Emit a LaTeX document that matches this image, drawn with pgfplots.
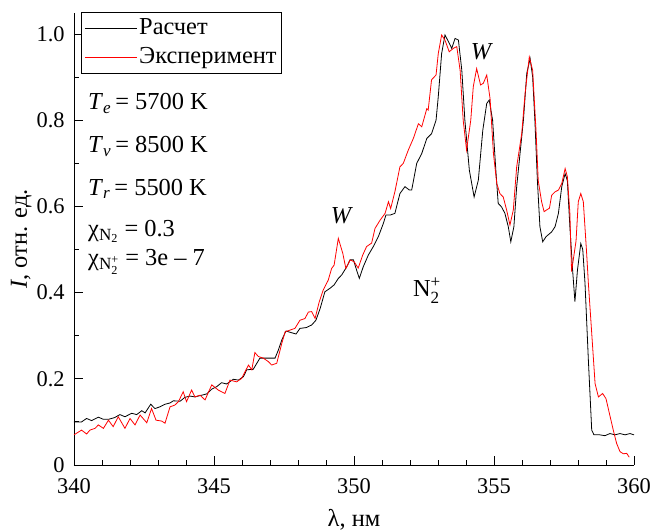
\documentclass[border=0pt]{standalone}
\usepackage{fontspec}
\usepackage{amsmath}
\setmainfont{Liberation Serif}
\usepackage{pgfplots}
\pgfplotsset{compat=1.18}
\begin{document}
\fontsize{24.5}{28}\selectfont
\begin{tikzpicture}
\useasboundingbox (-74bp,-66bp) rectangle (576bp,465bp);
\begin{axis}[
  at={(0,0)}, anchor=south west,
  scale only axis, width=560bp, height=452bp,
  xmin=340, xmax=360, ymin=0, ymax=1.049,
  axis x line*=bottom, axis y line*=left,
  axis line style={-, line width=0.9bp},
  tick align=inside,
  xtick={340,345,350,355,360},
  ytick={0,0.2,0.4,0.6,0.8,1.0},
  yticklabels={0,0.2,0.4,0.6,0.8,1.0},
  minor x tick num=4, minor y tick num=1,
  major tick length=9bp, minor tick length=5bp,
  every tick/.style={black, line width=0.9bp},
  /pgf/number format/assume math mode=true,
  font=\fontsize{24.5}{28}\selectfont,
  ticklabel style={font=\fontsize{22.5}{26}\selectfont},
  xticklabel style={yshift=-5bp},
  yticklabel style={xshift=-1bp},
  xlabel={λ, нм},
  ylabel={\textit{I}, отн. ед.},
  xlabel style={at={(axis description cs:0.5,0)}, anchor=base, yshift=-61bp},
  ylabel style={at={(axis description cs:-0.084,0.5)}, anchor=base},
  legend style={at={(rel axis cs:0.0125,1.002)}, anchor=north west, draw=black, line width=0.8bp,
    font=\fontsize{24.5}{28}\selectfont, inner xsep=3bp, inner ysep=4bp, row sep=5bp, fill=white},
  legend cell align=left,
  legend image code/.code={\draw[#1] (0bp,0bp) -- (52bp,0bp);},
]
\addplot[black, line width=0.8bp] coordinates {
(340.0,0.100) (340.27,0.100) (340.45,0.108) (340.63,0.103) (340.87,0.111) (341.05,0.106) (341.23,0.106) (341.45,0.110) (341.64,0.117) (341.82,0.112) (342.06,0.120) (342.24,0.117) (342.42,0.126) (342.54,0.121) (342.74,0.141) (342.89,0.131) (343.07,0.135) (343.25,0.141) (343.43,0.144) (343.55,0.149) (343.79,0.148) (343.96,0.157) (344.14,0.160) (344.32,0.158) (344.56,0.162) (344.74,0.165) (344.92,0.176) (345.1,0.182) (345.27,0.191) (345.45,0.188) (345.69,0.199) (345.87,0.197) (346.05,0.205) (346.17,0.221) (346.4,0.222) (346.64,0.248) (346.94,0.248) (347.18,0.248) (347.3,0.267) (347.42,0.290) (347.57,0.311) (347.77,0.307) (347.93,0.304) (348.07,0.317) (348.3,0.319) (348.49,0.325) (348.64,0.336) (348.79,0.363) (348.96,0.402) (349.14,0.410) (349.29,0.418) (349.44,0.433) (349.56,0.441) (349.74,0.460) (349.86,0.476) (349.98,0.476) (350.07,0.457) (350.19,0.433) (350.33,0.460) (350.51,0.487) (350.69,0.507) (350.87,0.530) (351.05,0.561) (351.14,0.580) (351.29,0.580) (351.46,0.584) (351.64,0.630) (351.82,0.646) (351.98,0.638) (352.06,0.638) (352.24,0.700) (352.42,0.723) (352.6,0.758) (352.77,0.769) (352.93,0.800) (353.01,0.855) (353.13,0.955) (353.25,0.998) (353.4,0.979) (353.49,0.967) (353.61,0.990) (353.73,0.986) (353.85,0.916) (353.96,0.800) (354.12,0.684) (354.29,0.622) (354.44,0.661) (354.6,0.777) (354.74,0.839) (354.83,0.847) (354.95,0.800) (355.07,0.680) (355.15,0.607) (355.27,0.599) (355.39,0.584) (355.51,0.553) (355.6,0.518) (355.71,0.553) (355.81,0.646) (355.93,0.723) (356.05,0.800) (356.17,0.909) (356.29,0.943) (356.38,0.901) (356.46,0.800) (356.55,0.660) (356.64,0.553) (356.74,0.518) (356.86,0.530) (357.06,0.541) (357.18,0.553) (357.3,0.584) (357.42,0.646) (357.54,0.676) (357.62,0.660) (357.71,0.553) (357.81,0.450) (357.89,0.379) (357.98,0.452) (358.1,0.514) (358.17,0.500) (358.25,0.422) (358.37,0.244) (358.49,0.081) (358.57,0.070) (358.78,0.070) (358.96,0.068) (359.14,0.073) (359.32,0.070) (359.5,0.073) (359.68,0.070) (359.86,0.073) (360.0,0.070)
};
\addlegendentry{Расчет}
\addplot[red, line width=0.8bp] coordinates {
(340.0,0.070) (340.27,0.081) (340.45,0.072) (340.57,0.081) (340.75,0.085) (340.87,0.093) (341.05,0.085) (341.23,0.104) (341.4,0.089) (341.58,0.112) (341.82,0.085) (342.0,0.108) (342.18,0.093) (342.36,0.116) (342.6,0.098) (342.77,0.131) (342.93,0.104) (343.13,0.102) (343.25,0.097) (343.43,0.135) (343.6,0.139) (343.73,0.147) (343.9,0.170) (344.02,0.147) (344.2,0.174) (344.32,0.158) (344.5,0.162) (344.68,0.151) (344.92,0.186) (345.15,0.174) (345.39,0.166) (345.57,0.197) (345.81,0.193) (345.99,0.201) (346.23,0.232) (346.35,0.221) (346.46,0.261) (346.58,0.252) (346.76,0.248) (346.94,0.240) (347.06,0.232) (347.24,0.236) (347.42,0.282) (347.54,0.309) (347.71,0.313) (347.89,0.317) (348.07,0.336) (348.25,0.340) (348.37,0.355) (348.49,0.356) (348.61,0.340) (348.76,0.379) (348.9,0.406) (349.08,0.429) (349.2,0.456) (349.29,0.464) (349.44,0.526) (349.6,0.491) (349.71,0.456) (349.86,0.476) (350.0,0.472) (350.15,0.457) (350.31,0.487) (350.45,0.507) (350.63,0.515) (350.75,0.549) (350.93,0.568) (351.11,0.584) (351.23,0.611) (351.31,0.595) (351.46,0.634) (351.64,0.692) (351.76,0.700) (351.94,0.731) (352.12,0.758) (352.3,0.792) (352.42,0.785) (352.6,0.827) (352.65,0.824) (352.77,0.894) (352.93,0.905) (353.01,0.955) (353.13,0.998) (353.25,0.986) (353.4,0.959) (353.55,0.967) (353.67,0.971) (353.79,0.916) (353.9,0.800) (354.02,0.731) (354.17,0.800) (354.26,0.878) (354.38,0.920) (354.52,0.882) (354.62,0.886) (354.74,0.905) (354.86,0.850) (354.98,0.723) (355.1,0.653) (355.21,0.630) (355.33,0.622) (355.45,0.592) (355.57,0.557) (355.69,0.592) (355.81,0.692) (355.99,0.769) (356.11,0.862) (356.26,0.947) (356.38,0.916) (356.5,0.777) (356.58,0.660) (356.7,0.611) (356.79,0.588) (356.88,0.592) (356.98,0.596) (357.06,0.626) (357.18,0.634) (357.3,0.638) (357.42,0.653) (357.54,0.688) (357.62,0.669) (357.71,0.584) (357.77,0.449) (357.93,0.520) (358.01,0.611) (358.1,0.630) (358.19,0.611) (358.31,0.490) (358.37,0.422) (358.49,0.306) (358.61,0.189) (358.73,0.158) (358.88,0.166) (359.0,0.154) (359.12,0.120) (359.26,0.081) (359.38,0.050) (359.5,0.031) (359.62,0.026) (359.74,0.027) (359.83,0.018)
};
\addlegendentry{Эксперимент}
\node[anchor=base west, inner sep=0] at (axis cs:340.5,0.824) {\textit{T}$_{\textit{e}}$\,= 5700 K};
\node[anchor=base west, inner sep=0] at (axis cs:340.5,0.725) {\textit{T}$_{\textit{v}}$\,= 8500 K};
\node[anchor=base west, inner sep=0] at (axis cs:340.5,0.626) {\textit{T}$_{\textit{r}}$\,= 5500 K};
\node[anchor=base west, inner sep=0] at (axis cs:340.5,0.530) {χ$_{\text{N}_{\text{2}}}$ = 0.3};
\node[anchor=base west, inner sep=0] at (axis cs:340.5,0.464) {χ$_{\text{N}_{\text{2}}^{\text{+}}}$ = 3e – 7};
\node[anchor=base, inner sep=0] at (axis cs:354.57,0.94) {\textit{W}};
\node[anchor=base, inner sep=0] at (axis cs:349.57,0.561) {\textit{W}};
\node[anchor=base west, inner sep=0] at (axis cs:352.1,0.39) {N$_{\text{2}}^{\text{+}}$};
\end{axis}
\end{tikzpicture}
\end{document}
